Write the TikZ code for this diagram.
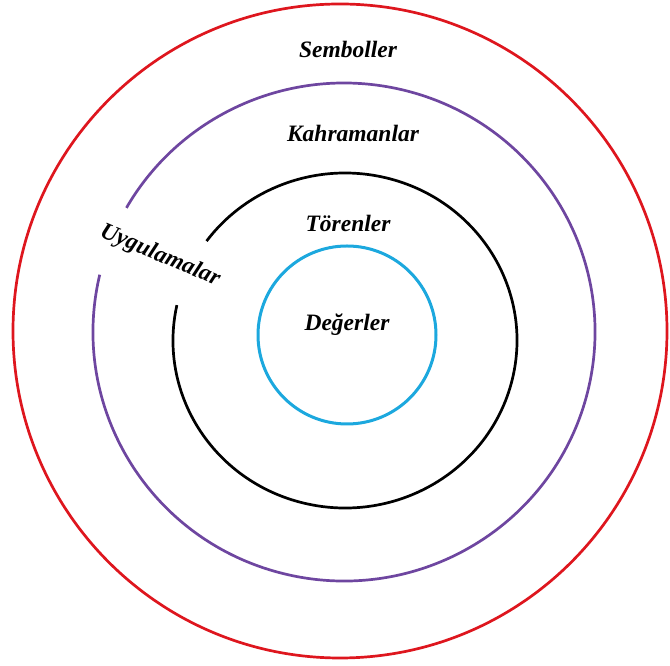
\documentclass[tikz,border=0pt]{standalone}
\usepackage{fontspec}
\setmainfont{Liberation Serif}
\begin{document}
\begin{tikzpicture}[x=1pt,y=1pt,
  ring/.style={line width=2.7pt},
  lbl/.style={font=\fontsize{23.5}{28}\selectfont\bfseries\itshape, inner sep=0pt}]
\definecolor{ringred}{RGB}{222,22,30}
\definecolor{ringpurple}{RGB}{110,70,160}
\definecolor{ringcyan}{RGB}{28,168,222}
\useasboundingbox (0,0) rectangle (670,666);
% outer red
\draw[ring, ringred] (340,335) circle[radius=327];
% purple with gap
\draw[ring, ringpurple] (344,334) ++(166.7:251pt and 249pt)
  arc[start angle=166.7, end angle=510.1, x radius=251, y radius=249];
% black with gap
\draw[ring, black] (345,325.5) ++(167.8:172pt and 167.5pt)
  arc[start angle=167.8, end angle=503.6, x radius=172, y radius=167.5];
% inner cyan
\draw[ring, ringcyan, line width=3pt] (347,331) circle[radius=89];
% labels
\node[lbl] (semboller) at (348,617) {Semboller};
\node[lbl] (kahramanlar) at (353,533) {Kahramanlar};
\node[lbl] (torenler) at (348,443) {Törenler};
\node[lbl] (degerler) at (347,341) {Değerler};
\node[lbl, rotate=-23] (uygulamalar) at (160,410) {Uygulamalar};
\end{tikzpicture}
\end{document}
